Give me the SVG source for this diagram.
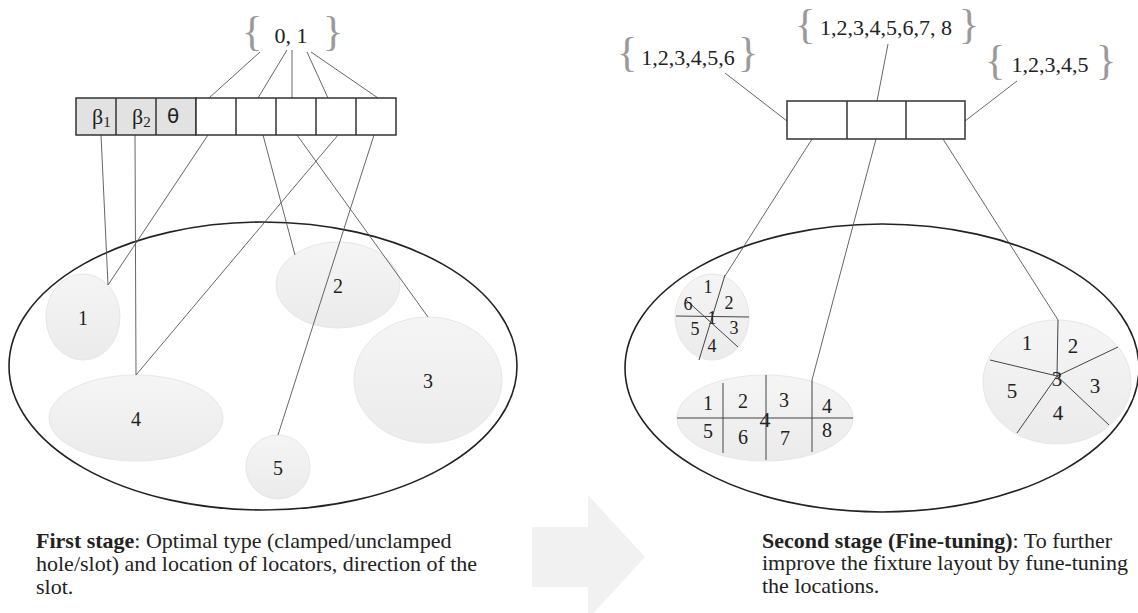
<svg xmlns="http://www.w3.org/2000/svg" width="1138" height="613" viewBox="0 0 1138 613">
<defs>
<linearGradient id="g" x1="0" y1="0" x2="0" y2="1"><stop offset="0" stop-color="#f5f5f5"/><stop offset="1" stop-color="#ebebeb"/></linearGradient>
</defs>
<style>
.t{font-family:"Liberation Serif","Times New Roman",serif;fill:#222}
.lbl{font-size:20px;text-anchor:middle}
.br{font-size:43px;fill:#9a9a9a;text-anchor:middle}
.set{font-size:22px}
.con{stroke:#555;stroke-width:0.9;fill:none}
.cell{stroke:#333;stroke-width:1.5}
.part{fill:none;stroke:#222;stroke-width:1.6}
.loc{fill:url(#g);stroke:#e6e6e6;stroke-width:1}
.div{stroke:#444;stroke-width:1}
.cap{font-size:22px}
</style>
<rect width="1138" height="613" fill="#fff"/>

<g id="part-left"><ellipse class="part" cx="263" cy="366" rx="254" ry="144"/></g>
<g id="part-right"><ellipse class="part" cx="882" cy="368" rx="257" ry="144"/></g>

<g id="loc-left-1"><ellipse class="loc" cx="83" cy="317" rx="37" ry="43"/><text class="t lbl" x="83" y="325">1</text></g>
<g id="loc-left-2"><ellipse class="loc" cx="338" cy="285" rx="62" ry="43"/><text class="t lbl" x="338" y="293">2</text></g>
<g id="loc-left-3"><ellipse class="loc" cx="428" cy="380" rx="74" ry="63"/><text class="t lbl" x="428" y="388">3</text></g>
<g id="loc-left-4"><ellipse class="loc" cx="136" cy="418" rx="87" ry="43"/><text class="t lbl" x="136" y="426">4</text></g>
<g id="loc-left-5"><ellipse class="loc" cx="278" cy="467" rx="32" ry="32"/><text class="t lbl" x="278" y="475">5</text></g>

<g id="loc-right-1">
<ellipse class="loc" cx="712" cy="317" rx="37" ry="43"/>
<line class="div" x1="676" y1="316" x2="749" y2="317"/>
<line class="div" x1="725" y1="275" x2="699" y2="360"/>
<line class="div" x1="685" y1="299" x2="738" y2="347"/>
<g class="t" font-size="18" text-anchor="middle">
<text x="708" y="293">1</text><text x="729" y="309">2</text><text x="688" y="310">6</text>
<text x="712" y="324">1</text><text x="695" y="335">5</text><text x="734" y="334">3</text><text x="712" y="352">4</text>
</g>
</g>

<g id="loc-right-2">
<ellipse class="loc" cx="765" cy="418" rx="88" ry="43"/>
<line x1="677" y1="418" x2="853" y2="418" stroke="#999" stroke-width="1.8"/>
<line class="div" x1="723" y1="383" x2="723" y2="453"/>
<line class="div" x1="766" y1="375" x2="766" y2="460"/>
<line class="div" x1="812" y1="380" x2="812" y2="452"/>
<g class="t" font-size="20" text-anchor="middle">
<text x="708" y="410">1</text><text x="743" y="408">2</text><text x="784" y="407">3</text><text x="827" y="413">4</text>
<text x="708" y="438">5</text><text x="743" y="444">6</text><text x="785" y="445">7</text><text x="827" y="437">8</text>
<text x="765" y="427" font-size="22">4</text>
</g>
</g>

<g id="loc-right-3">
<ellipse class="loc" cx="1057" cy="382" rx="74" ry="62"/>
<line class="div" x1="1058" y1="320" x2="1057" y2="376"/>
<line class="div" x1="1057" y1="376" x2="1118" y2="347"/>
<line class="div" x1="1057" y1="376" x2="1109" y2="425"/>
<line class="div" x1="1057" y1="376" x2="1017" y2="433"/>
<line class="div" x1="1057" y1="376" x2="990" y2="360"/>
<g class="t" font-size="21" text-anchor="middle">
<text x="1027" y="350">1</text><text x="1073" y="353">2</text><text x="1095" y="393">3</text>
<text x="1058" y="420">4</text><text x="1012" y="398">5</text><text x="1057" y="386">3</text>
</g>
</g>

<g id="connectors">
<line class="con" x1="260" y1="52" x2="209" y2="98"/>
<line class="con" x1="287" y1="50" x2="258" y2="98"/>
<line class="con" x1="292" y1="50" x2="292" y2="98"/>
<line class="con" x1="307" y1="52" x2="328" y2="98"/>
<line class="con" x1="311" y1="52" x2="378" y2="98"/>
<line class="con" x1="101" y1="135" x2="108" y2="285"/>
<line class="con" x1="208" y1="135" x2="108" y2="285"/>
<line class="con" x1="135" y1="135" x2="136" y2="375"/>
<line class="con" x1="338" y1="135" x2="136" y2="375"/>
<line class="con" x1="263" y1="135" x2="295" y2="255"/>
<line class="con" x1="297" y1="135" x2="428" y2="317"/>
<line class="con" x1="374" y1="135" x2="278" y2="435"/>
<line class="con" x1="725" y1="73" x2="787" y2="121"/>
<line class="con" x1="888" y1="44" x2="877" y2="101"/>
<line class="con" x1="1017" y1="81" x2="965" y2="121"/>
<line class="con" x1="812" y1="139" x2="725" y2="276"/>
<line class="con" x1="876" y1="139" x2="812" y2="380"/>
<line class="con" x1="943" y1="139" x2="1058" y2="320"/>
</g>

<g id="array-left">
<rect class="cell" x="76" y="98" width="120" height="37" fill="#e2e2e2"/>
<rect class="cell" x="196" y="98" width="200" height="37" fill="#fff"/>
<g class="cell"><line x1="116" y1="98" x2="116" y2="135"/><line x1="156" y1="98" x2="156" y2="135"/><line x1="236" y1="98" x2="236" y2="135"/><line x1="276" y1="98" x2="276" y2="135"/><line x1="316" y1="98" x2="316" y2="135"/><line x1="356" y1="98" x2="356" y2="135"/></g>
<text class="t" x="92" y="124" font-size="22">β<tspan font-size="15" dy="3">1</tspan></text>
<text class="t" x="132" y="124" font-size="22">β<tspan font-size="15" dy="3">2</tspan></text>
<text x="173" y="123" font-size="20" text-anchor="middle" font-family="DejaVu Sans, sans-serif" fill="#222">θ</text>
</g>

<g id="set-left" class="t">
<text class="br" x="252" y="45">{</text><text class="br" x="333" y="45">}</text>
<text class="set" x="291" y="43" text-anchor="middle">0, 1</text>
</g>

<g id="array-right">
<rect class="cell" x="787" y="101" width="178" height="38" fill="#fff"/>
<line class="cell" x1="847" y1="101" x2="847" y2="139"/><line class="cell" x1="906" y1="101" x2="906" y2="139"/>
</g>

<g id="set-right-1" class="t">
<text class="br" x="627" y="66">{</text><text class="br" x="748" y="66">}</text>
<text class="set" x="688" y="65" text-anchor="middle">1,2,3,4,5,6</text>
</g>
<g id="set-right-2" class="t">
<text class="br" x="805" y="38">{</text><text class="br" x="969" y="38">}</text>
<text class="set" x="886" y="35" text-anchor="middle">1,2,3,4,5,6,7, 8</text>
</g>
<g id="set-right-3" class="t">
<text class="br" x="995" y="74">{</text><text class="br" x="1106" y="74">}</text>
<text class="set" x="1050" y="72" text-anchor="middle">1,2,3,4,5</text>
</g>

<g id="arrow"><polygon points="532,527 588,527 588,495 645,557 588,619 588,587 532,587" fill="#f1f1f1"/></g>

<g id="caption-left" class="t cap">
<text x="36" y="548"><tspan font-weight="bold">First stage</tspan>: Optimal type (clamped/unclamped</text>
<text x="36" y="571">hole/slot) and location of locators, direction of the</text>
<text x="36" y="594">slot.</text>
</g>
<g id="caption-right" class="t cap">
<text x="762" y="548"><tspan font-weight="bold">Second stage (Fine-tuning)</tspan>: To further</text>
<text x="762" y="570">improve the fixture layout by fune-tuning</text>
<text x="762" y="593">the locations.</text>
</g>
</svg>
